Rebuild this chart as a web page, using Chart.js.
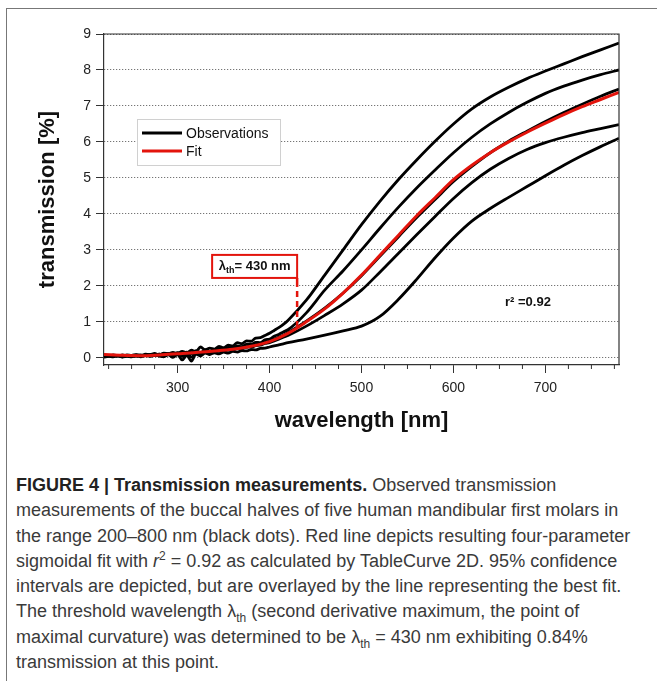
<!DOCTYPE html>
<html>
<head>
<meta charset="utf-8">
<script src="https://cdn.jsdelivr.net/npm/chart.js@4.4.1/dist/chart.umd.min.js"></script>
<style>
  html, body { margin: 0; padding: 0; background: #fff; }
  body { width: 657px; height: 681px; position: relative; overflow: hidden; font-family: "Liberation Sans", Arial, sans-serif; }
  #frame { position: absolute; left: 6px; top: 8px; width: 700px; height: 700px; border-left: 1px solid #777; border-top: 1px solid #777; }
  #chartBox { position: absolute; left: 0; top: 0; width: 657px; height: 450px; }
  #caption { position: absolute; left: 16px; top: 473px; font-size: 18px; line-height: 25.3px; color: #3a3a3a; white-space: nowrap; }
  #caption b { color: #222; }
  #caption sup, #caption sub { font-size: 12px; line-height: 0; }
</style>
</head>
<body>
<div id="frame"></div>
<div id="chartBox"><canvas id="chart"></canvas></div>
<div id="caption">
  <b>FIGURE 4 | Transmission measurements.</b> Observed transmission<br>
  measurements of the buccal halves of five human mandibular first molars in<br>
  the range 200–800 nm (black dots). Red line depicts resulting four-parameter<br>
  sigmoidal fit with <i>r</i><sup>2</sup> = 0.92 as calculated by TableCurve 2D. 95% confidence<br>
  intervals are depicted, but are overlayed by the line representing the best fit.<br>
  The threshold wavelength λ<sub>th</sub> (second derivative maximum, the point of<br>
  maximal curvature) was determined to be λ<sub>th</sub> = 430 nm exhibiting 0.84%<br>
  transmission at this point.
</div>

<script>
// observation wavelengths (nm): dense where the signal is noisy, coarser above
const obsWavelengths = [
  220, 225, 230, 235, 240, 245, 250, 255, 260, 265, 270, 275, 280, 285, 290, 295,
  300, 305, 310, 315, 320, 325, 330, 335, 340, 345, 350, 355, 360, 365, 370, 375,
  380, 385, 390, 395, 400, 405, 410, 415, 420,
  440, 460, 480, 500, 520, 540, 560, 580, 600, 620, 640, 660, 680, 700, 720, 740, 760, 780
];

// five molars, transmission in %
const obsA = [
  0.07, 0.05, 0.08, 0.06, 0.05, 0.08, 0.07, 0.09, 0.06, 0.10, 0.09, 0.12, 0.08, 0.13, 0.11, 0.15,
  0.12, 0.18, 0.14, 0.21, 0.17, 0.30, 0.22, 0.27, 0.24, 0.32, 0.28, 0.35, 0.33, 0.42, 0.39, 0.47,
  0.46, 0.55, 0.56, 0.62, 0.68, 0.76, 0.84, 0.93, 1.04,
  1.60, 2.30, 3.00, 3.70, 4.35, 4.95, 5.50, 6.02, 6.50, 6.92, 7.25, 7.52, 7.76, 7.97, 8.17, 8.37, 8.56, 8.75
];
const obsB = [
  0.04, 0.06, 0.05, 0.07, 0.04, 0.06, 0.05, 0.08, 0.07, 0.06, 0.09, 0.07, 0.10, 0.08, 0.12, 0.09,
  0.14, 0.10, 0.16, 0.13, 0.20, 0.14, 0.23, 0.18, 0.21, 0.27, 0.22, 0.29, 0.27, 0.33, 0.31, 0.38,
  0.37, 0.43, 0.42, 0.50, 0.52, 0.60, 0.65, 0.72, 0.78,
  1.25, 1.88, 2.42, 3.00, 3.60, 4.18, 4.72, 5.22, 5.70, 6.13, 6.50, 6.82, 7.10, 7.35, 7.55, 7.72, 7.87, 8.00
];
const obsC = [
  0.08, 0.06, 0.07, 0.05, 0.08, 0.06, 0.07, 0.05, 0.08, 0.06, 0.09, 0.07, 0.10, 0.08, 0.11, 0.09,
  0.13, 0.10, 0.15, 0.12, 0.17, 0.13, 0.20, 0.16, 0.21, 0.18, 0.24, 0.21, 0.27, 0.25, 0.30, 0.29,
  0.35, 0.36, 0.40, 0.42, 0.47, 0.52, 0.57, 0.63, 0.70,
  1.02, 1.38, 1.80, 2.28, 2.82, 3.36, 3.90, 4.40, 4.90, 5.32, 5.70, 6.02, 6.30, 6.57, 6.82, 7.05, 7.27, 7.47
];
const obsD = [
  0.03, 0.05, 0.04, 0.06, 0.03, 0.05, 0.04, 0.07, 0.05, 0.07, 0.06, 0.09, 0.07, 0.05, 0.10, 0.06,
  0.11, 0.04, 0.13, 0.02, 0.15, 0.10, 0.19, 0.13, 0.18, 0.22, 0.17, 0.24, 0.21, 0.27, 0.25, 0.31,
  0.29, 0.34, 0.35, 0.40, 0.42, 0.47, 0.52, 0.57, 0.62,
  0.88, 1.18, 1.50, 1.88, 2.38, 2.90, 3.42, 3.93, 4.43, 4.87, 5.24, 5.54, 5.79, 5.98, 6.13, 6.26, 6.37, 6.48
];
const obsE = [
  0.02, 0.04, 0.03, 0.05, 0.02, 0.04, 0.03, 0.05, 0.03, 0.06, 0.04, 0.07, 0.05, 0.03, 0.08, 0.01,
  0.09, -0.06, 0.07, -0.09, 0.10, 0.05, 0.13, 0.09, 0.14, 0.11, 0.16, 0.13, 0.18, 0.16, 0.20, 0.19,
  0.23, 0.22, 0.26, 0.27, 0.30, 0.33, 0.36, 0.39, 0.42,
  0.52, 0.63, 0.75, 0.88, 1.15, 1.62, 2.18, 2.78, 3.33, 3.80, 4.15, 4.46, 4.76, 5.06, 5.35, 5.62, 5.87, 6.10
];

// sigmoidal fit
const fitWavelengths = [220, 240, 260, 280, 300, 320, 340, 360, 380, 400, 420, 440, 460, 480, 500,
  520, 540, 560, 580, 600, 620, 640, 660, 680, 700, 720, 740, 760, 780];
const fitValues = [0.09, 0.07, 0.06, 0.08, 0.11, 0.15, 0.19, 0.24, 0.32, 0.45, 0.68, 1.00, 1.36, 1.80, 2.30,
  2.85, 3.40, 3.95, 4.45, 4.95, 5.35, 5.70, 6.00, 6.27, 6.52, 6.76, 6.98, 7.18, 7.38];

// axes
const xMajorTicks = [300, 400, 500, 600, 700];
const xMinorTicks = [225, 250, 275, 325, 350, 375, 425, 450, 475, 525, 550, 575, 625, 650, 675, 725, 750, 775];
const yTickValues = [0, 1, 2, 3, 4, 5, 6, 7, 8, 9];

// annotations
const legendLabels = ["Observations", "Fit"];
const thresholdWavelength = 430;
const thresholdValue = 0.84;
const rSquaredText = "r² =0.92";

const OBS_COLOR = "#000";
const FIT_COLOR = "#e3140c";
const FONT = "'Liberation Sans', Arial, sans-serif";

Chart.defaults.font.family = FONT;
Chart.defaults.color = "#222";

function pts(xs, ys) {
  return xs.map((x, i) => ({ x: x, y: ys[i] }));
}

function obsSet(values) {
  return {
    data: pts(obsWavelengths, values),
    borderColor: OBS_COLOR,
    borderWidth: 2.8,
    pointRadius: 0,
    cubicInterpolationMode: "monotone"
  };
}

// frame, minor ticks, legend, threshold box, r²
const decorPlugin = {
  id: "decor",
  afterDraw(chart) {
    const { ctx, chartArea: a, scales: { x, y } } = chart;
    ctx.save();

    ctx.strokeStyle = "#333";
    ctx.lineWidth = 1.2;
    ctx.beginPath();
    ctx.moveTo(a.left, a.top);
    ctx.lineTo(a.right, a.top);
    ctx.lineTo(a.right, a.bottom);
    ctx.stroke();

    ctx.lineWidth = 1;
    xMinorTicks.forEach(v => {
      const px = x.getPixelForValue(v);
      ctx.beginPath();
      ctx.moveTo(px, a.bottom);
      ctx.lineTo(px, a.bottom + 4);
      ctx.stroke();
    });

    // legend
    const lx = a.left + 33, ly = a.top + 85;
    ctx.fillStyle = "#fff";
    ctx.fillRect(lx, ly, 143, 46);
    ctx.strokeStyle = "#d0d0d0";
    ctx.lineWidth = 1;
    ctx.strokeRect(lx + 0.5, ly + 0.5, 143, 46);
    [OBS_COLOR, FIT_COLOR].forEach((c, i) => {
      const yy = ly + 14 + i * 18;
      ctx.strokeStyle = c;
      ctx.lineWidth = 3;
      ctx.beginPath();
      ctx.moveTo(lx + 5, yy);
      ctx.lineTo(lx + 45, yy);
      ctx.stroke();
      ctx.fillStyle = "#111";
      ctx.font = "14px " + FONT;
      ctx.textBaseline = "middle";
      ctx.fillText(legendLabels[i], lx + 49, yy + 1);
    });

    // threshold box
    const tx = x.getPixelForValue(thresholdWavelength);
    const bBottom = y.getPixelForValue(2.22);
    const bTop = y.getPixelForValue(2.86);
    const bLeft = tx - 85;
    ctx.fillStyle = "#fff";
    ctx.fillRect(bLeft, bTop, tx - bLeft, bBottom - bTop);
    ctx.strokeStyle = FIT_COLOR;
    ctx.lineWidth = 2;
    ctx.strokeRect(bLeft, bTop, tx - bLeft, bBottom - bTop);

    const big = "bold 13px " + FONT, small = "bold 9px " + FONT;
    ctx.font = big;
    const w1 = ctx.measureText("λ").width;
    const w3 = ctx.measureText("= 430 nm").width;
    ctx.font = small;
    const w2 = ctx.measureText("th").width;
    let cx = bLeft + (tx - bLeft - (w1 + w2 + w3)) / 2;
    const cy = (bTop + bBottom) / 2;
    ctx.fillStyle = "#111";
    ctx.textBaseline = "middle";
    ctx.font = big;
    ctx.fillText("λ", cx, cy);
    ctx.font = small;
    ctx.fillText("th", cx + w1, cy + 4);
    ctx.font = big;
    ctx.fillText("= 430 nm", cx + w1 + w2, cy);

    // drop line to the fit
    const yEnd = y.getPixelForValue(thresholdValue);
    ctx.strokeStyle = FIT_COLOR;
    ctx.lineWidth = 2.5;
    ctx.beginPath();
    ctx.moveTo(tx, bBottom);
    ctx.lineTo(tx, bBottom + 9);
    ctx.stroke();
    ctx.setLineDash([6, 4]);
    ctx.beginPath();
    ctx.moveTo(tx, bBottom + 13);
    ctx.lineTo(tx, yEnd);
    ctx.stroke();
    ctx.setLineDash([]);

    // r²
    ctx.fillStyle = "#111";
    ctx.font = "bold 13px " + FONT;
    ctx.fillText(rSquaredText, x.getPixelForValue(656), y.getPixelForValue(1.53));

    ctx.restore();
  }
};

new Chart(document.getElementById("chart"), {
  type: "line",
  data: {
    datasets: [
      {
        data: pts(fitWavelengths, fitValues),
        borderColor: FIT_COLOR,
        borderWidth: 3,
        pointRadius: 0,
        cubicInterpolationMode: "monotone"
      },
      obsSet(obsA),
      obsSet(obsB),
      obsSet(obsC),
      obsSet(obsD),
      obsSet(obsE)
    ]
  },
  options: {
    responsive: true,
    maintainAspectRatio: false,
    animation: false,
    events: [],
    layout: { padding: { left: 0, top: 34, right: 38, bottom: 0 } },
    plugins: { legend: { display: false }, tooltip: { enabled: false } },
    scales: {
      x: {
        type: "linear",
        min: 220,
        max: 780,
        afterBuildTicks: s => { s.ticks = xMajorTicks.map(v => ({ value: v })); },
        afterFit: s => { s.height = 85; },
        ticks: { font: { size: 14 }, color: "#222", padding: 7, maxRotation: 0 },
        grid: { drawOnChartArea: false, tickLength: 8, tickColor: "#333", tickWidth: 1 },
        border: { color: "#333", width: 1.2 },
        title: {
          display: true,
          text: "wavelength [nm]",
          color: "#111",
          font: { size: 22, weight: "bold" },
          padding: { top: 0, bottom: 16 }
        }
      },
      y: {
        min: -0.2,
        max: 9,
        afterBuildTicks: s => { s.ticks = yTickValues.map(v => ({ value: v })); },
        afterFit: s => { s.width = 104; },
        ticks: { font: { size: 14 }, color: "#222", padding: 5 },
        grid: { color: "#555", lineWidth: 1, tickLength: 8, tickColor: "#333", tickBorderDash: [] },
        border: { color: "#333", width: 1.2, dash: [1, 2] },
        title: {
          display: true,
          text: "transmission [%]",
          color: "#111",
          font: { size: 22, weight: "bold" },
          padding: { top: 35, bottom: 0 }
        }
      }
    }
  },
  plugins: [decorPlugin]
});
</script>
</body>
</html>
